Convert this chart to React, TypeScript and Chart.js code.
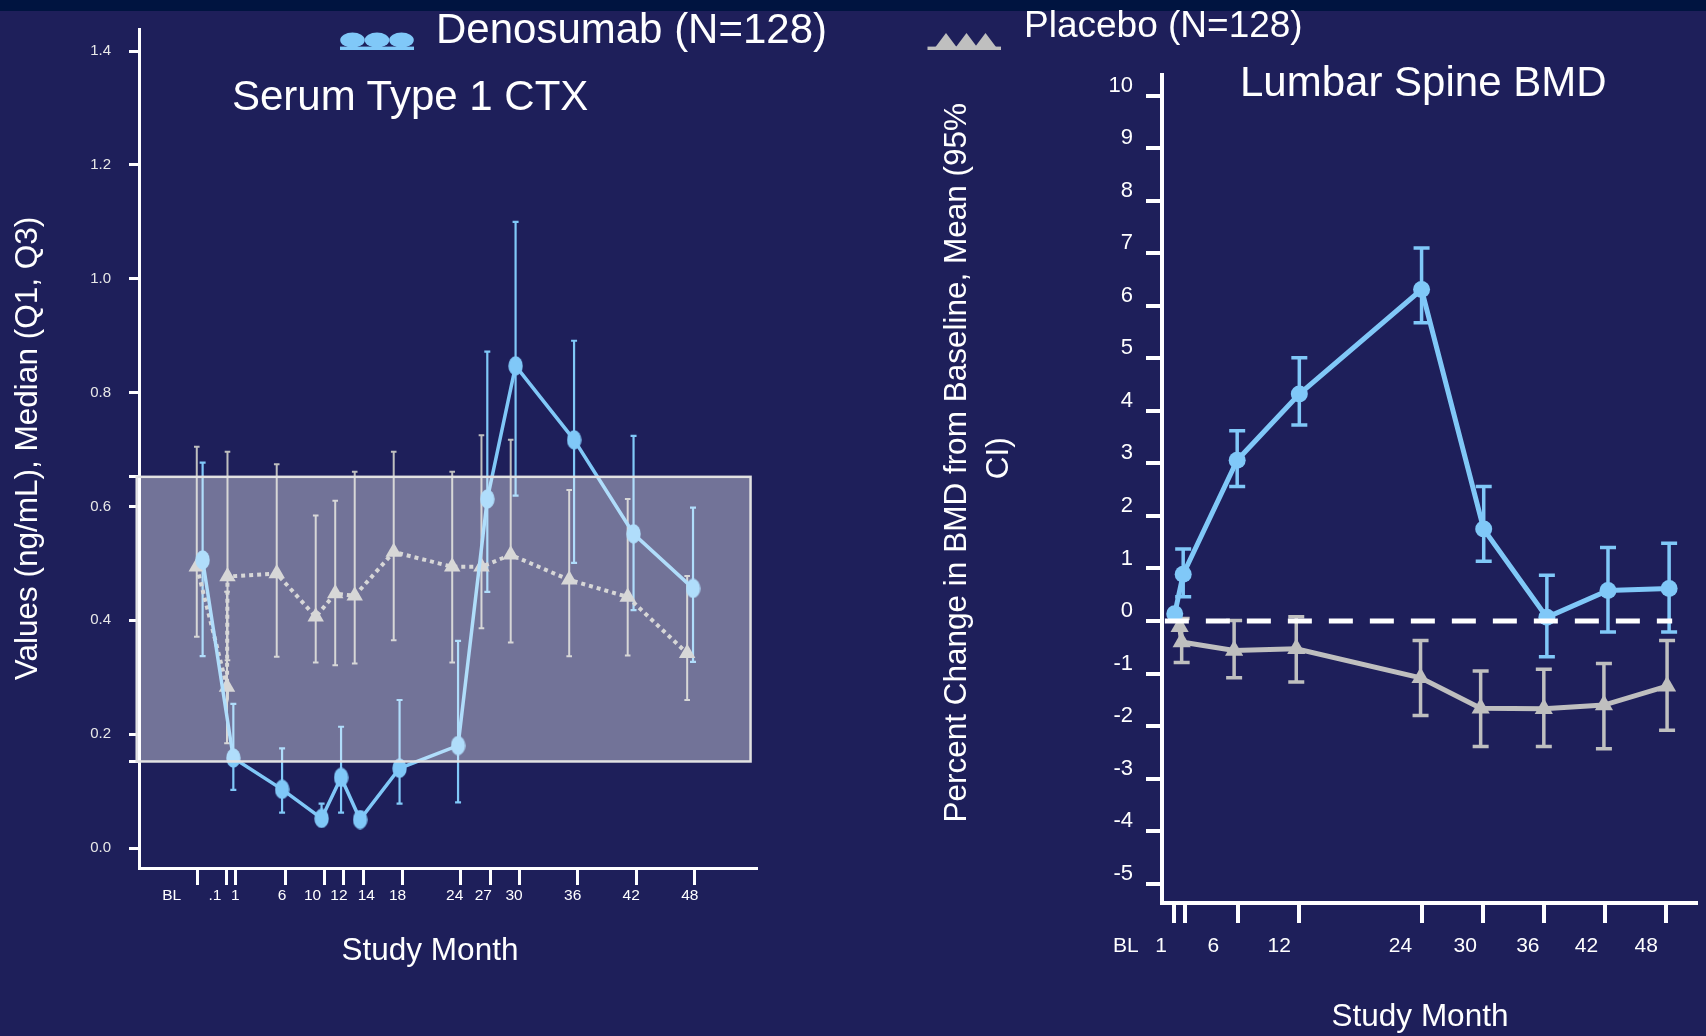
import React, { useEffect, useRef } from 'react';
import { Chart, registerables } from 'chart.js';

Chart.register(...registerables);

const FONT = '"Liberation Sans", Arial, Helvetica, sans-serif';
const BG = '#1E1F5A';
const BLUE = '#80C8F8';
const GREY = '#BFBFBF';
const WHITE = '#FFFFFF';

// ---------- Left panel: Serum Type 1 CTX ----------
const ctxTickMonths = [-3, 0, 0.85, 6, 10, 12, 14, 18, 24, 27, 30, 36, 42, 48];
const ctxTickLabels = ['BL', '.1', '1', '6', '10', '12', '14', '18', '24', '27', '30', '36', '42', '48'];
const ctxLabelMonths = [-5.68, -1.24, 0.85, 5.65, 8.77, 11.48, 14.29, 17.49, 23.35, 26.29, 29.45, 35.46, 41.46, 47.47];
const ctxYTicks = [0, 0.2, 0.4, 0.6, 0.8, 1.0, 1.2, 1.4];
const ctxRefRange = [0.152, 0.652];
const ctxRefMonths = [-9.26, 53.7];

const ctxDenoMonths = [-2.5, 0.65, 5.65, 9.7, 11.7, 13.65, 17.7, 23.7, 26.7, 29.6, 35.6, 41.7, 47.8];
const ctxDenoMedian = [0.506, 0.158, 0.103, 0.052, 0.124, 0.05, 0.14, 0.18, 0.613, 0.847, 0.717, 0.552, 0.456];
const ctxDenoQ1 = [0.337, 0.102, 0.062, 0.045, 0.062, 0.045, 0.078, 0.08, 0.45, 0.619, 0.501, 0.418, 0.327];
const ctxDenoQ3 = [0.677, 0.253, 0.175, 0.078, 0.213, 0.062, 0.26, 0.364, 0.872, 1.1, 0.891, 0.724, 0.598];

const ctxPboMonths = [-3.1, 0.0, 0.05, 5.1, 9.1, 11.1, 13.1, 17.1, 23.1, 26.1, 29.1, 35.1, 41.1, 47.2];
const ctxPboMedian = [0.494, 0.283, 0.477, 0.482, 0.406, 0.447, 0.443, 0.52, 0.494, 0.494, 0.515, 0.471, 0.441, 0.342];
const ctxPboQ1 = [0.371, 0.184, 0.33, 0.336, 0.326, 0.321, 0.324, 0.365, 0.326, 0.386, 0.361, 0.337, 0.338, 0.26];
const ctxPboQ3 = [0.705, 0.45, 0.696, 0.674, 0.584, 0.61, 0.661, 0.696, 0.661, 0.725, 0.717, 0.629, 0.613, 0.478];

// ---------- Right panel: Lumbar Spine BMD ----------
const bmdTickMonths = [-0.35, 0.8, 6, 12, 24, 30, 36, 42, 48];
const bmdTickLabels = ['BL', '1', '6', '12', '24', '30', '36', '42', '48'];
const bmdLabelMonths = [-5.03, -1.58, 3.57, 10.03, 21.93, 28.28, 34.43, 40.19, 46.06];
const bmdYTicks = [-5, -4, -3, -2, -1, 0, 1, 2, 3, 4, 5, 6, 7, 8, 9, 10];

const bmdDenoMonths = [-0.23, 0.6, 5.9, 12, 24, 30.1, 36.3, 42.3, 48.3];
const bmdDenoMean = [0.14, 0.89, 3.06, 4.32, 6.31, 1.75, 0.07, 0.58, 0.62];
const bmdDenoLow = [null, 0.46, 2.56, 3.73, 5.68, 1.14, -0.68, -0.21, -0.21];
const bmdDenoHigh = [null, 1.37, 3.62, 5.01, 7.1, 2.56, 0.87, 1.4, 1.48];

const bmdPboMonths = [0.25, 0.45, 5.6, 11.7, 23.9, 29.8, 36, 41.9, 48.1];
const bmdPboMean = [-0.11, -0.4, -0.56, -0.53, -1.08, -1.66, -1.67, -1.6, -1.24];
const bmdPboLow = [null, -0.79, -1.08, -1.16, -1.8, -2.39, -2.39, -2.43, -2.08];
const bmdPboHigh = [null, 0.05, 0.01, 0.08, -0.37, -0.95, -0.92, -0.81, -0.37];

const bmdZeroLine = [-1.2, 48.6];

// ---------- plugins ----------
const errorBarPlugin = {
  id: 'errorBars',
  beforeDatasetsDraw(chart: any) {
    const ctx = chart.ctx;
    const yScale = chart.scales.y;
    chart.data.datasets.forEach((ds: any, di: number) => {
      if (!ds.errLo) return;
      const meta = chart.getDatasetMeta(di);
      ctx.save();
      ctx.strokeStyle = ds.errColor;
      ctx.lineWidth = ds.errWidth;
      ctx.lineCap = 'butt';
      meta.data.forEach((pt: any, i: number) => {
        const lo = ds.errLo[i];
        const hi = ds.errHi[i];
        if (lo == null || hi == null) return;
        const x = pt.x;
        const y1 = yScale.getPixelForValue(lo);
        const y2 = yScale.getPixelForValue(hi);
        const c = ds.errCap;
        ctx.beginPath();
        ctx.moveTo(x, y1);
        ctx.lineTo(x, y2);
        ctx.moveTo(x - c, y1);
        ctx.lineTo(x + c, y1);
        ctx.moveTo(x - c, y2);
        ctx.lineTo(x + c, y2);
        ctx.stroke();
      });
      ctx.restore();
    });
  },
};

const refBandPlugin = {
  id: 'refBand',
  afterDraw(chart: any) {
    const { ctx } = chart;
    const xs = chart.scales.x;
    const ys = chart.scales.y;
    const x1 = xs.getPixelForValue(ctxRefMonths[0]);
    const x2 = xs.getPixelForValue(ctxRefMonths[1]);
    const y1 = ys.getPixelForValue(ctxRefRange[1]);
    const y2 = ys.getPixelForValue(ctxRefRange[0]);
    ctx.save();
    ctx.fillStyle = 'rgba(255,255,255,0.375)';
    ctx.fillRect(x1, y1, x2 - x1, y2 - y1);
    ctx.strokeStyle = '#E2E2E2';
    ctx.lineWidth = 2.5;
    ctx.strokeRect(x1, y1, x2 - x1, y2 - y1);
    ctx.restore();
  },
};

function makeEllipse(w: number, h: number, color: string) {
  const c = document.createElement('canvas');
  c.width = w;
  c.height = h;
  const g = c.getContext('2d')!;
  g.fillStyle = color;
  g.beginPath();
  g.ellipse(w / 2, h / 2, w / 2 - 0.3, h / 2 - 0.3, 0, 0, Math.PI * 2);
  g.fill();
  return c;
}

const font = (size: number, lineHeight = 1.2) => ({ family: FONT, size, lineHeight });

function CtxChart() {
  const ref = useRef<HTMLCanvasElement>(null);
  useEffect(() => {
    const ellipse = makeEllipse(15, 20, BLUE);
    const chart = new Chart(ref.current!, {
      type: 'line',
      data: {
        datasets: [
          {
            label: 'Denosumab (N=128)',
            data: ctxDenoMonths.map((m, i) => ({ x: m, y: ctxDenoMedian[i] })),
            borderColor: BLUE,
            backgroundColor: BLUE,
            borderWidth: 3.5,
            pointStyle: ellipse as any,
            pointRadius: 9,
            pointBorderWidth: 0,
            tension: 0,
            order: 0,
            errLo: ctxDenoQ1,
            errHi: ctxDenoQ3,
            errColor: BLUE,
            errWidth: 2.2,
            errCap: 3,
          } as any,
          {
            label: 'Placebo (N=128)',
            data: ctxPboMonths.map((m, i) => ({ x: m, y: ctxPboMedian[i] })),
            borderColor: GREY,
            backgroundColor: GREY,
            borderWidth: 4,
            borderDash: [4, 4],
            borderCapStyle: 'butt',
            pointStyle: 'triangle',
            pointRadius: 9.5,
            pointBorderWidth: 0,
            tension: 0,
            order: 1,
            errLo: ctxPboQ1,
            errHi: ctxPboQ3,
            errColor: GREY,
            errWidth: 2,
            errCap: 2.8,
          } as any,
        ],
      },
      options: {
        animation: false,
        responsive: false,
        devicePixelRatio: 1,
        events: [],
        layout: { padding: { left: 0, top: 29, right: 24, bottom: 0 } },
        plugins: { legend: { display: false }, tooltip: { enabled: false } },
        scales: {
          x: {
            type: 'linear',
            position: 'bottom',
            weight: 0,
            min: -9.026,
            max: 54.26,
            afterBuildTicks: (axis: any) => {
              axis.ticks = ctxTickMonths.map((v) => ({ value: v }));
            },
            afterFit: (axis: any) => {
              axis.height = 17;
            },
            ticks: { display: false },
            grid: { drawOnChartArea: false, color: WHITE, lineWidth: 3, tickLength: 17 },
            border: { display: true, color: WHITE, width: 3 },
          },
          xl: {
            type: 'linear',
            axis: 'x',
            position: 'bottom',
            weight: 1,
            min: -9.026,
            max: 54.26,
            afterBuildTicks: (axis: any) => {
              axis.ticks = ctxLabelMonths.map((v) => ({ value: v }));
            },
            afterFit: (axis: any) => {
              axis.height = 95;
            },
            grid: { display: false, drawTicks: false },
            border: { display: false },
            ticks: {
              autoSkip: false,
              maxRotation: 0,
              minRotation: 0,
              padding: 1,
              color: WHITE,
              font: font(15.5),
              callback: (_v: any, i: number) => ctxTickLabels[i],
            },
            title: {
              display: true,
              text: 'Study Month    ',
              color: WHITE,
              font: font(31.5),
              padding: { top: 0, bottom: 10 },
            },
          },
          y: {
            type: 'linear',
            min: -0.03513,
            max: 1.43865,
            afterBuildTicks: (axis: any) => {
              axis.ticks = [...ctxYTicks, ...ctxRefRange].sort((a, b) => a - b).map((v) => ({ value: v }));
            },
            afterFit: (axis: any) => {
              axis.width = 139;
            },
            ticks: {
              autoSkip: false,
              padding: 18,
              color: '#E8E8E8',
              font: font(15),
              callback: (v: any) => (ctxYTicks.includes(v) ? Number(v).toFixed(1) : ''),
            },
            grid: { drawOnChartArea: false, color: WHITE, lineWidth: 3, tickLength: 10 },
            border: { display: true, color: WHITE, width: 3 },
            title: {
              display: true,
              text: 'Values (ng/mL), Median (Q1, Q3)',
              color: WHITE,
              font: font(31.5),
              padding: { top: 9, bottom: 0 },
            },
          },
        },
      } as any,
      plugins: [errorBarPlugin, refBandPlugin],
    });
    return () => chart.destroy();
  }, []);
  return (
    <canvas
      ref={ref}
      width={780}
      height={980}
      style={{ position: 'absolute', left: 0, top: 0, width: 780, height: 980 }}
    />
  );
}

function BmdChart() {
  const ref = useRef<HTMLCanvasElement>(null);
  useEffect(() => {
    const chart = new Chart(ref.current!, {
      type: 'line',
      data: {
        datasets: [
          {
            label: 'zero',
            data: bmdZeroLine.map((m) => ({ x: m, y: 0 })),
            borderColor: WHITE,
            borderWidth: 5,
            borderDash: [24, 17],
            borderCapStyle: 'butt',
            pointRadius: 0,
            order: -1,
          } as any,
          {
            label: 'Denosumab (N=128)',
            data: bmdDenoMonths.map((m, i) => ({ x: m, y: bmdDenoMean[i] })),
            borderColor: BLUE,
            backgroundColor: BLUE,
            borderWidth: 5,
            pointStyle: 'circle',
            pointRadius: 8.5,
            pointBorderWidth: 0,
            tension: 0,
            order: 0,
            errLo: bmdDenoLow,
            errHi: bmdDenoHigh,
            errColor: BLUE,
            errWidth: 3.5,
            errCap: 8,
          } as any,
          {
            label: 'Placebo (N=128)',
            data: bmdPboMonths.map((m, i) => ({ x: m, y: bmdPboMean[i] })),
            borderColor: GREY,
            backgroundColor: GREY,
            borderWidth: 5,
            pointStyle: 'triangle',
            pointRadius: 10.5,
            pointBorderWidth: 0,
            tension: 0,
            order: 1,
            errLo: bmdPboLow,
            errHi: bmdPboHigh,
            errColor: GREY,
            errWidth: 3.5,
            errCap: 8,
          } as any,
        ],
      },
      options: {
        animation: false,
        responsive: false,
        devicePixelRatio: 1,
        events: [],
        layout: { padding: { left: 0, top: 75, right: 0, bottom: 0 } },
        plugins: { legend: { display: false }, tooltip: { enabled: false } },
        scales: {
          x: {
            type: 'linear',
            position: 'bottom',
            weight: 0,
            min: -1.48,
            max: 50.89,
            afterBuildTicks: (axis: any) => {
              axis.ticks = bmdTickMonths.map((v) => ({ value: v }));
            },
            afterFit: (axis: any) => {
              axis.height = 20;
            },
            ticks: { display: false },
            grid: { drawOnChartArea: false, color: WHITE, lineWidth: 4, tickLength: 20 },
            border: { display: true, color: WHITE, width: 4 },
          },
          xl: {
            type: 'linear',
            axis: 'x',
            position: 'bottom',
            weight: 1,
            min: -1.48,
            max: 50.89,
            afterBuildTicks: (axis: any) => {
              axis.ticks = bmdLabelMonths.map((v) => ({ value: v }));
            },
            afterFit: (axis: any) => {
              axis.height = 113;
            },
            grid: { display: false, drawTicks: false },
            border: { display: false },
            ticks: {
              autoSkip: false,
              maxRotation: 0,
              minRotation: 0,
              padding: 11,
              color: WHITE,
              font: font(21),
              callback: (_v: any, i: number) => bmdTickLabels[i],
            },
            title: {
              display: true,
              text: 'Study Month  ',
              color: WHITE,
              font: font(31.5),
              padding: { top: 0, bottom: 0 },
            },
          },
          y: {
            type: 'linear',
            min: -5.368,
            max: 10.394,
            afterBuildTicks: (axis: any) => {
              axis.ticks = bmdYTicks.map((v) => ({ value: v }));
            },
            afterFit: (axis: any) => {
              axis.width = 242;
            },
            ticks: {
              autoSkip: false,
              padding: 13,
              labelOffset: -10,
              color: WHITE,
              font: font(22),
              callback: (v: any) => String(v),
            },
            grid: { drawOnChartArea: false, color: WHITE, lineWidth: 4, tickLength: 16 },
            border: { display: true, color: WHITE, width: 4 },
            title: {
              display: true,
              text: ['      Percent Change in BMD from Baseline, Mean (95%', '       CI)'],
              color: WHITE,
              font: font(31.5, 1.333),
              padding: { top: 16, bottom: 0 },
            },
          },
        },
      } as any,
      plugins: [errorBarPlugin],
    });
    return () => chart.destroy();
  }, []);
  return (
    <canvas
      ref={ref}
      width={786}
      height={1036}
      style={{ position: 'absolute', left: 920, top: 0, width: 786, height: 1036 }}
    />
  );
}

const textStyle = (left: number, top: number, size: number): React.CSSProperties => ({
  position: 'absolute',
  left,
  top,
  fontFamily: FONT,
  fontSize: size,
  lineHeight: `${size}px`,
  color: WHITE,
  whiteSpace: 'nowrap',
  pointerEvents: 'none',
});

export default function App() {
  return (
    <div
      style={{
        position: 'relative',
        width: 1706,
        height: 1036,
        overflow: 'hidden',
        background: BG,
      }}
    >
      <style>{'html,body{margin:0;padding:0;background:' + BG + ';}'}</style>
      <div style={{ position: 'absolute', left: 0, top: 0, width: 1706, height: 11, background: '#001440' }} />
      <CtxChart />
      <BmdChart />
      <svg
        width={1706}
        height={60}
        style={{ position: 'absolute', left: 0, top: 0, pointerEvents: 'none' }}
      >
        <rect x={340} y={46.6} width={74} height={3.4} fill={BLUE} />
        <ellipse cx={352.5} cy={40} rx={12.3} ry={7.5} fill={BLUE} />
        <ellipse cx={377} cy={40} rx={12.3} ry={7.5} fill={BLUE} />
        <ellipse cx={401.5} cy={40} rx={12.3} ry={7.5} fill={BLUE} />
        <rect x={927.5} y={46.6} width={73.5} height={3.4} fill={GREY} />
        <polygon points="935.5,47 946,33 956.5,47" fill={GREY} />
        <polygon points="956,47 966.5,33 977,47" fill={GREY} />
        <polygon points="975,47 985.5,33 996,47" fill={GREY} />
      </svg>
      <div style={textStyle(436, 8, 42)}>Denosumab (N=128)</div>
      <div style={textStyle(1024, 5.5, 37)}>Placebo (N=128)</div>
      <div style={textStyle(232, 74.5, 42)}>Serum Type 1 CTX</div>
      <div style={textStyle(1240, 61, 42)}>Lumbar Spine BMD</div>
    </div>
  );
}
